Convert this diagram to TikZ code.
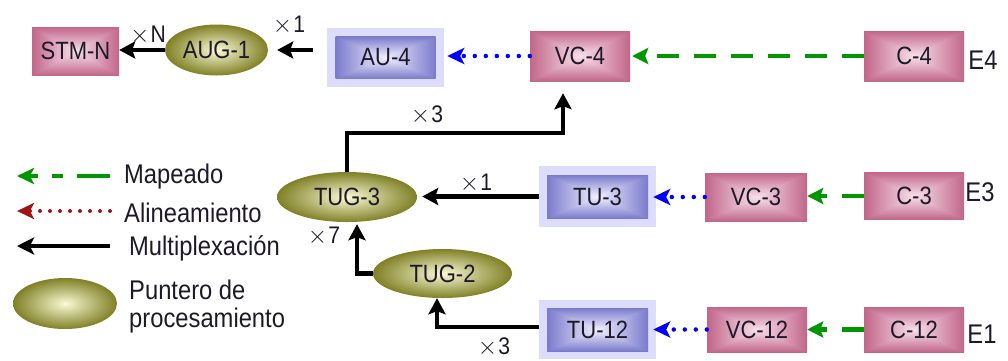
\documentclass[tikz,border=0pt]{standalone}
\usepackage{fontspec}
\setmainfont[FakeStretch=0.88]{Liberation Sans}
\usetikzlibrary{arrows.meta,shapes.geometric}

\definecolor{mapgreen}{RGB}{0,150,0}
\definecolor{alired}{RGB}{160,20,20}
\definecolor{aublue}{RGB}{0,0,255}
\definecolor{outerblue}{RGB}{220,220,252}
\definecolor{olivelight}{RGB}{250,250,215}
\definecolor{olivedark}{RGB}{128,128,38}
\definecolor{txt}{RGB}{30,25,40}

\pgfdeclarefunctionalshading{pinkrect}{\pgfpoint{-50bp}{-50bp}}{\pgfpoint{50bp}{50bp}}{}{
abs exch abs 2 copy lt {exch} if pop 25 div dup 1 gt {pop 1} if
dup dup
-0.38 mul 0.92 add 3 1 roll
-0.48 mul 0.88 add exch
-0.21 mul 0.97 add 3 1 roll exch
}
\pgfdeclarefunctionalshading{bluerect}{\pgfpoint{-50bp}{-50bp}}{\pgfpoint{50bp}{50bp}}{}{
abs exch abs 2 copy lt {exch} if pop 25 div dup 1 gt {pop 1} if
dup dup
-0.20 mul 1.0 add 3 1 roll
-0.46 mul 0.94 add exch
-0.46 mul 0.94 add 3 1 roll exch
}

\newcommand{\lblfont}{\fontsize{25}{28}\selectfont}
\newcommand{\legfont}{\fontsize{27}{30}\selectfont}
\newcommand{\mulfont}{\fontsize{24}{26}\selectfont}
\newcommand{\mx}{$\times$\kern1pt}

\tikzset{
  pinkbox/.style={shade, shading=pinkrect, rectangle, inner sep=0pt,
    minimum width=100pt, minimum height=49pt, font=\lblfont, text=txt},
  bluebox/.style={shade, shading=bluerect, rectangle, inner sep=0pt,
    minimum width=101pt, minimum height=43pt, font=\lblfont, text=txt},
  blueouter/.style={fill=outerblue, rectangle, inner sep=0pt,
    minimum width=117pt, minimum height=60pt},
  ptr/.style={ellipse, shade, inner color=olivelight, outer color=olivedark,
    inner sep=0pt, font=\lblfont, text=txt},
  mux/.style={line width=4.5pt, -{Stealth[length=16pt,width=17pt,inset=3pt]}},
  alignarrow/.style={aublue, line width=4.5pt, line cap=round, dash pattern=on 0pt off 11pt,
    -{Stealth[length=17pt,width=16pt,inset=4pt]}},
  maparrow/.style={mapgreen, line width=4.5pt, dash pattern=on 22pt off 15pt,
    -{Stealth[length=16pt,width=16pt,inset=3pt]}},
  multlabel/.style={font=\mulfont, inner sep=0pt, text=txt},
  elabel/.style={font=\legfont, inner sep=0pt, text=txt},
  legtext/.style={font=\legfont, inner sep=0pt, anchor=west, text=txt},
}

\begin{document}
\begin{tikzpicture}[x=1pt, y=-1pt]
\useasboundingbox (0,0) rectangle (1008,360);

% ---- top row
\node[pinkbox, minimum width=87pt, minimum height=48pt] (STM) at (75.5,51) {STM-N};
\node[ptr, minimum width=103pt, minimum height=51pt] (AUG1) at (216.5,50) {AUG-1};
\node[blueouter, minimum height=59pt] (AU4o) at (385.5,57.5) {};
\node[bluebox, minimum width=100pt, minimum height=42pt] (AU4) at (385.5,57.5) {AU-4};
\node[pinkbox, minimum height=50pt] (VC4) at (580,56) {VC-4};
\node[pinkbox, minimum height=50pt] (C4) at (914,56) {C-4};
\node[elabel] (E4) at (983,60) {E4};

% ---- middle row
\node[ptr, minimum width=140pt, minimum height=50pt] (TUG3) at (347,197) {TUG-3};
\node[blueouter, minimum height=61pt] (TU3o) at (597.5,196.5) {};
\node[bluebox] (TU3) at (597.5,196.5) {TU-3};
\node[pinkbox, minimum width=102pt, minimum height=48pt] (VC3) at (756,197) {VC-3};
\node[pinkbox, minimum height=47pt] (C3) at (914,196) {C-3};
\node[elabel] (E3) at (980,192) {E3};

% ---- bottom rows
\node[ptr, minimum width=139pt, minimum height=49pt] (TUG2) at (442.5,273.5) {TUG-2};
\node[blueouter, minimum height=59pt] (TU12o) at (597.5,329.5) {};
\node[bluebox] (TU12) at (597.5,329.5) {TU-12};
\node[pinkbox, minimum height=45pt] (VC12) at (757,329.5) {VC-12};
\node[pinkbox, minimum height=45pt] (C12) at (914,329.5) {C-12};
\node[elabel] (E1) at (982,334) {E1};

% ---- multiplexing connectors
\draw[mux] (AUG1.west) -- (STM.east |- AUG1.west);
\draw[mux, shorten <=14pt, shorten >=9pt] (AU4o.west |- AUG1.east) -- (AUG1.east);
\coordinate (bend) at (563,133);
\draw[mux, shorten >=12pt] (TUG3.north) |- (bend) -- (bend |- VC4.south);
\draw[mux, shorten >=5pt] (TU3o.west) -- (TU3o.west -| TUG3.east);
\coordinate (k1) at (357,273.5);
\draw[mux, shorten >=2pt] (TUG2.west) -- (k1) -- (k1 |- TUG3.south);
\coordinate (k2) at (437,327);
\draw[mux] (TU12o.west |- k2) -- (k2) -- (k2 |- TUG2.south);

% ---- multiplicity labels
\node[multlabel] (mN) at (148,35) {\mx N};
\node[multlabel] (m1a) at (289,25) {\mx 1};
\node[multlabel] (m3a) at (427,115) {\mx 3};
\node[multlabel] (m1b) at (476,183) {\mx 1};
\node[multlabel] (m7) at (324,236) {\mx 7};
\node[multlabel] (m3b) at (494,347) {\mx 3};

% ---- alignment connectors
\draw[alignarrow, shorten >=3pt] (VC4.west) -- (VC4.west -| AU4o.east);
\draw[alignarrow, shorten >=-3pt] (VC3.west) -- (VC3.west -| TU3o.east);
\draw[alignarrow, shorten >=-3pt] (VC12.west) -- (VC12.west -| TU12o.east);

% ---- mapping connectors
\draw[maparrow, shorten >=2pt] (C4.west) -- (C4.west -| VC4.east);
\draw[maparrow] (C3.west) -- (C3.west -| VC3.east);
\draw[maparrow] (C12.west) -- (C12.west -| VC12.east);

% ---- legend
\coordinate (LgA) at (110,176);
\coordinate (LgB) at (17,176);
\coordinate (LrA) at (110,211);
\coordinate (LrB) at (17,211);
\coordinate (LkA) at (110,246);
\coordinate (LkB) at (17,246);
\draw[mapgreen, line width=4.5pt, dash pattern=on 33pt off 14pt on 11pt off 14pt,
  -{Stealth[length=17pt,width=16pt,inset=4pt]}] (LgA) -- (LgB);
\draw[alired, line width=4pt, line cap=round, dash pattern=on 0pt off 10pt,
  -{Stealth[length=17pt,width=16pt,inset=4pt]}] (LrA) -- (LrB);
\draw[mux, -{Stealth[length=17pt,width=17pt,inset=4pt]}] (LkA) -- (LkB);
\node[ptr, minimum width=104pt, minimum height=51pt] (Lptr) at (65,303.5) {};
\node[legtext] (t1) at (124,177) {Mapeado};
\node[legtext] (t2) at (124,213) {Alineamiento};
\node[legtext] (t3) at (129,248) {Multiplexación};
\node[legtext] (t4) at (129,290) {Puntero de};
\node[legtext] (t5) at (129,321) {procesamiento};
\end{tikzpicture}
\end{document}
